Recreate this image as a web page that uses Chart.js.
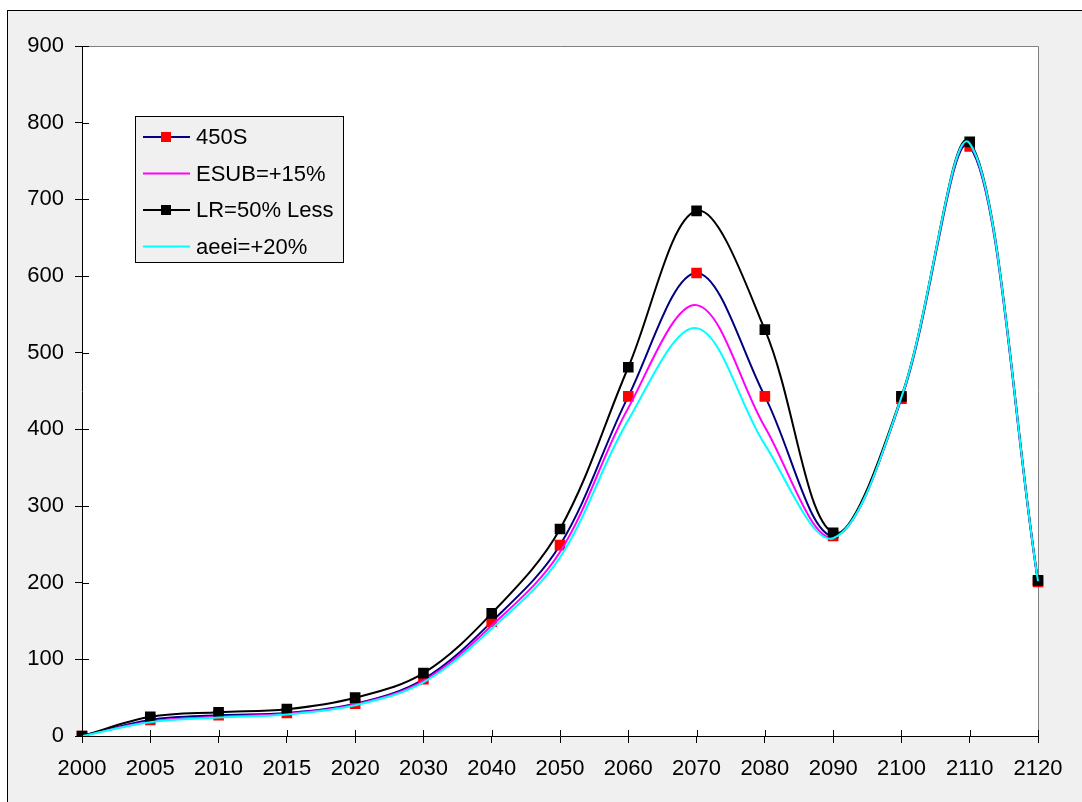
<!DOCTYPE html>
<html>
<head>
<meta charset="utf-8">
<script src="https://cdn.jsdelivr.net/npm/chart.js@4/dist/chart.umd.min.js"></script>
<style>
  html, body { margin: 0; padding: 0; background: #fff; }
  #wrap { width: 1082px; height: 802px; }
</style>
</head>
<body>
<div id="wrap"><canvas id="chart"></canvas></div>
<script>
const years = ['2000', '2005', '2010', '2015', '2020', '2030', '2040', '2050', '2060', '2070', '2080', '2090', '2100', '2110', '2120'];
const s450 = [0, 21, 27, 30, 42, 74, 149, 249, 443, 604, 443, 261, 440, 769, 201];
const esub = [0, 19, 25, 29, 41, 72, 144, 240, 428, 562, 403, 259, 441, 772, 201];
const lrLess = [0, 25, 31, 35, 50, 82, 160, 270, 481, 685, 530, 265, 443, 775, 203];
const aeei = [0, 18, 24, 28, 40, 70, 140, 233, 412, 532, 380, 258, 442, 773, 202];

const FONT = '"Liberation Sans", Arial, sans-serif';

// frame, plot border, inner tick stubs and the boxed legend
const excelLook = {
  id: 'excelLook',
  beforeDraw(chart) {
    const ctx = chart.ctx;
    const a = chart.chartArea;
    ctx.save();
    ctx.fillStyle = '#ffffff';
    ctx.fillRect(0, 0, chart.width, chart.height);
    ctx.fillStyle = '#f0f0f0';
    ctx.fillRect(7, 10, chart.width, chart.height);
    ctx.strokeStyle = '#000';
    ctx.lineWidth = 1;
    ctx.strokeRect(7.5, 10.5, chart.width + 10, chart.height + 10);
    ctx.fillStyle = '#ffffff';
    ctx.fillRect(a.left, a.top, a.right - a.left, a.bottom - a.top);
    ctx.strokeStyle = '#808080';
    ctx.beginPath();
    ctx.moveTo(a.left, a.top + 0.5);
    ctx.lineTo(a.right + 0.5, a.top + 0.5);
    ctx.lineTo(a.right + 0.5, a.bottom);
    ctx.stroke();
    ctx.restore();
  },
  afterDraw(chart) {
    const ctx = chart.ctx;
    const a = chart.chartArea;
    const xs = chart.scales.x;
    const ys = chart.scales.y;
    ctx.save();
    ctx.strokeStyle = '#000';
    ctx.lineWidth = 1;
    ctx.beginPath();
    for (let i = 0; i < years.length; i++) {
      const x = Math.round(xs.getPixelForValue(i)) + 0.5;
      ctx.moveTo(x, a.bottom);
      ctx.lineTo(x, a.bottom - 6);
    }
    ys.ticks.forEach(t => {
      const y = Math.round(ys.getPixelForValue(t.value)) + 0.5;
      ctx.moveTo(a.left, y);
      ctx.lineTo(a.left + 7, y);
    });
    ctx.stroke();

    // legend
    const lx = 135, ly = 116, lw = 208, lh = 146;
    ctx.fillStyle = '#f0f0f0';
    ctx.fillRect(lx, ly, lw, lh);
    ctx.strokeStyle = '#000';
    ctx.strokeRect(lx + 0.5, ly + 0.5, lw, lh);
    ctx.font = '22px ' + FONT;
    ctx.textBaseline = 'middle';
    chart.data.datasets.forEach((ds, i) => {
      const y = 137 + i * 36.5;
      ctx.strokeStyle = ds.borderColor;
      ctx.lineWidth = 2;
      ctx.beginPath();
      ctx.moveTo(143, y);
      ctx.lineTo(190, y);
      ctx.stroke();
      if (ds.pointRadius > 0) {
        ctx.fillStyle = ds.pointBackgroundColor;
        ctx.fillRect(161, y - 5, 10, 10);
      }
      ctx.fillStyle = '#000';
      ctx.fillText(ds.label, 196, y + 1);
    });
    ctx.restore();
  }
};

const ctx = document.getElementById('chart').getContext('2d');
const myChart = new Chart(ctx, {
  type: 'line',
  data: {
    labels: years,
    datasets: [
      {
        label: '450S',
        data: s450,
        borderColor: '#000080',
        borderWidth: 2,
        pointStyle: 'rect',
        pointRadius: 7.5,
        pointBackgroundColor: '#ff0000',
        pointBorderColor: '#ff0000',
        pointBorderWidth: 0,
        order: 4
      },
      {
        label: 'ESUB=+15%',
        data: esub,
        borderColor: '#ff00ff',
        borderWidth: 2,
        pointRadius: 0,
        order: 3
      },
      {
        label: 'LR=50% Less',
        data: lrLess,
        borderColor: '#000000',
        borderWidth: 2,
        pointStyle: 'rect',
        pointRadius: 7.5,
        pointBackgroundColor: '#000000',
        pointBorderColor: '#000000',
        pointBorderWidth: 0,
        order: 2
      },
      {
        label: 'aeei=+20%',
        data: aeei,
        borderColor: '#00ffff',
        borderWidth: 2,
        pointRadius: 0,
        order: 1
      }
    ]
  },
  options: {
    responsive: true,
    maintainAspectRatio: false,
    animation: false,
    devicePixelRatio: 1,
    layout: { padding: { left: 0, right: 44, top: 46, bottom: 0 } },
    plugins: {
      legend: { display: false },
      tooltip: { enabled: false }
    },
    elements: { line: { tension: 0.35 } },
    scales: {
      x: {
        type: 'category',
        offset: false,
        afterFit: s => { s.height = 66; },
        border: { color: '#000', width: 1 },
        grid: { drawOnChartArea: false, tickLength: 7, color: '#000', offset: false },
        ticks: {
          autoSkip: false,
          maxRotation: 0,
          padding: 13,
          color: '#000',
          font: { family: FONT, size: 22 }
        }
      },
      y: {
        min: 0,
        max: 900,
        afterFit: s => { s.width = 82; },
        border: { color: '#000', width: 1 },
        grid: { drawOnChartArea: false, tickLength: 7, color: '#000' },
        ticks: {
          stepSize: 100,
          padding: 11,
          color: '#000',
          font: { family: FONT, size: 22 }
        }
      }
    }
  },
  plugins: [excelLook]
});
</script>
</body>
</html>
